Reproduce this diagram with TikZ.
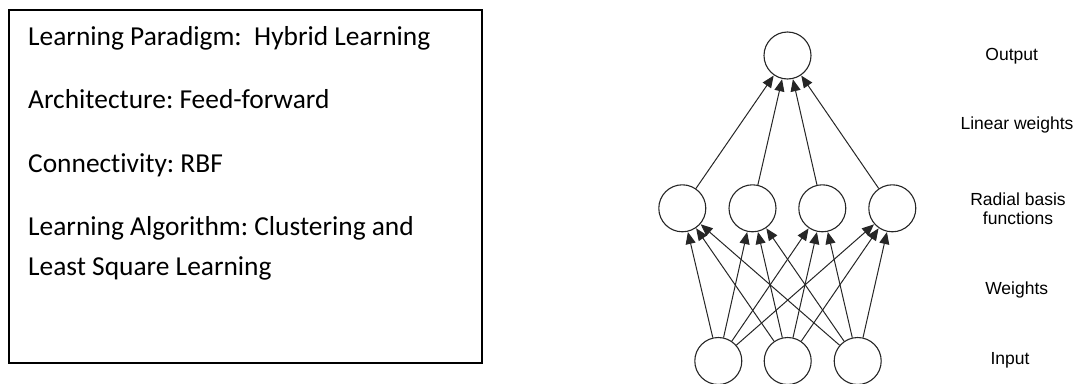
\documentclass[tikz,border=0pt]{standalone}
\usepackage{fontspec}
\setmainfont{Carlito}[Ligatures={NoCommon}]
\newfontfamily\labelfont{Liberation Sans}
\usetikzlibrary{arrows.meta}
\begin{document}
\frenchspacing
\begin{tikzpicture}[x=1pt,y=-1pt,
  neuron/.style={circle,draw=black!85,line width=1.1pt,fill=white,minimum size=47pt,inner sep=0pt},
  link/.style={draw=black!85,line width=1pt,-{Triangle[length=12pt,width=10pt]},shorten >=0.3pt},
  info/.style={anchor=base west,inner sep=0pt,font=\fontsize{27.4}{33}\selectfont},
  layer/.style={align=center,inner sep=0pt,font=\labelfont\fontsize{17.5}{19.5}\selectfont}]
\useasboundingbox (0,0) rectangle (1079,383);
% summary box
\node[draw,line width=1.8pt,minimum width=473pt,minimum height=353pt,inner sep=0pt,anchor=north west] (box) at (8.3,8.7) {};
\node[info] (t1) at (28,45) {Learning Paradigm:\ \ Hybrid Learning};
\node[info] (t2) at (28,108.5) {Architecture: Feed-forward};
\node[info] (t3) at (28,172) {Connectivity: RBF};
\node[info] (t4) at (28,235.5) {Learning Algorithm: Clustering and};
\node[info] (t5) at (28,275.5) {Least Square Learning};
% network layers
\node[neuron] (o) at (787.5,55.5) {};
\node[neuron] (h1) at (682.3,208.3) {};
\node[neuron] (h2) at (752.5,208.3) {};
\node[neuron] (h3) at (822.3,208.3) {};
\node[neuron] (h4) at (892.3,208.3) {};
\node[neuron] (i1) at (718.3,361) {};
\node[neuron] (i2) at (787.7,361) {};
\node[neuron] (i3) at (857.7,361) {};
\foreach \h in {h1,h2,h3,h4}{
  \draw[link] (\h) -- (o);
  \foreach \i in {i1,i2,i3}{
    \draw[link] (\i) -- (\h);
  }
}
% layer captions
\node[layer] (lo) at (1011.7,56.5) {Output};
\node[layer] (lw) at (1017,125) {Linear weights};
\node[layer] (lr) at (1018,208.5) {Radial basis\\functions};
\node[layer] (lwt) at (1016.7,290) {Weights};
\node[layer] (li) at (1010,360) {Input};
\end{tikzpicture}
\end{document}
